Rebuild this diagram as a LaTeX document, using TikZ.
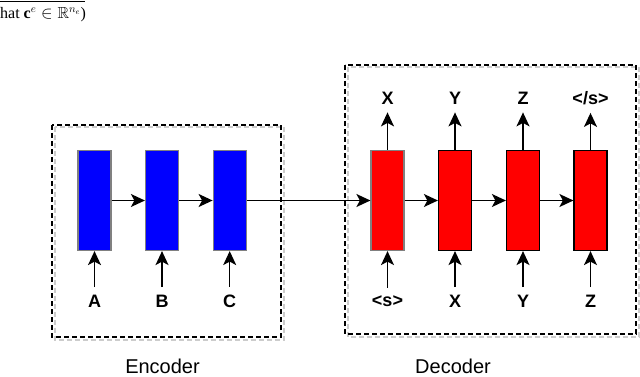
\documentclass[tikz,border=0pt]{standalone}
\usepackage{amsmath,amssymb}
\usepackage{fontspec}
\setmainfont{Liberation Serif}
\setsansfont{Liberation Sans}
\usetikzlibrary{arrows.meta}

\begin{document}
\begin{tikzpicture}[
    x=1pt, y=-1pt,
    cell/.style={
      draw, line width=1.2pt, inner sep=0pt,
      minimum width=33pt, minimum height=100pt
    },
    enccell/.style={cell, draw=gray, fill=blue},
    deccell/.style={cell, draw=black, fill=red},
    token/.style={font=\sffamily\bfseries\fontsize{18}{20}\selectfont, inner sep=8pt},
    caption/.style={font=\sffamily\fontsize{20}{22}\selectfont},
    arr/.style={-{Stealth[length=14pt,width=13pt,inset=3.5pt]}, line width=1.5pt},
    frame/.style={draw, line width=1.3pt, dash pattern=on 5pt off 3pt},
    shade/.style={draw=gray!40, line width=2pt, dash pattern=on 5pt off 3pt}
  ]
    \useasboundingbox (0,0) rectangle (640,377);

    \node[anchor=base west, inner sep=0pt, font=\fontsize{16}{18}\selectfont] (note) at (0,19)
      {hat $\mathbf{c}^e \in \mathbb{R}^{n_e}$)};
    \draw[line width=0.8pt] (0,1) -- (85,1);

    \draw[shade] (54.5,127.5) rectangle (283.5,339.5);
    \draw[frame] (52,125) rectangle (281,337);
    \draw[shade] (347.5,67.5) rectangle (638.5,336.5);
    \draw[frame] (345,65) rectangle (636,334);

    \node[enccell] (enc1) at (94.5,200.5) {};
    \node[enccell] (enc2) at (162,200.5) {};
    \node[enccell] (enc3) at (229.7,200.5) {};

    \node[deccell, draw=gray] (dec1) at (387.5,200.5) {};
    \node[deccell] (dec2) at (455,200.5) {};
    \node[deccell] (dec3) at (523,200.5) {};
    \node[deccell] (dec4) at (590.5,200.5) {};

    \node[token] (inA) at (94.5,301.5) {A};
    \node[token] (inB) at (162,301.5) {B};
    \node[token] (inC) at (229.7,301.5) {C};

    \node[token] (inS) at (387.5,301.5) {<s>};
    \node[token] (inX) at (455,301.5) {X};
    \node[token] (inY) at (523,301.5) {Y};
    \node[token] (inZ) at (590.5,301.5) {Z};

    \node[token] (outX) at (387.5,98) {X};
    \node[token] (outY) at (455,98) {Y};
    \node[token] (outZ) at (523,98) {Z};
    \node[token] (outE) at (590.5,98) {</s>};

    \draw[arr] (inA) -- (enc1);
    \draw[arr] (inB) -- (enc2);
    \draw[arr] (inC) -- (enc3);
    \draw[arr] (inS) -- (dec1);
    \draw[arr] (inX) -- (dec2);
    \draw[arr] (inY) -- (dec3);
    \draw[arr] (inZ) -- (dec4);

    \draw[arr] (dec1) -- (outX);
    \draw[arr] (dec2) -- (outY);
    \draw[arr] (dec3) -- (outZ);
    \draw[arr] (dec4) -- (outE);

    \draw[arr] (enc1) -- (enc2);
    \draw[arr] (enc2) -- (enc3);
    \draw[arr] (enc3) -- (dec1);
    \draw[arr] (dec1) -- (dec2);
    \draw[arr] (dec2) -- (dec3);
    \draw[arr] (dec3) -- (dec4);

    \node[caption] (enccap) at (162.5,366) {Encoder};
    \node[caption] (deccap) at (453,366) {Decoder};
  \end{tikzpicture}
\end{document}
